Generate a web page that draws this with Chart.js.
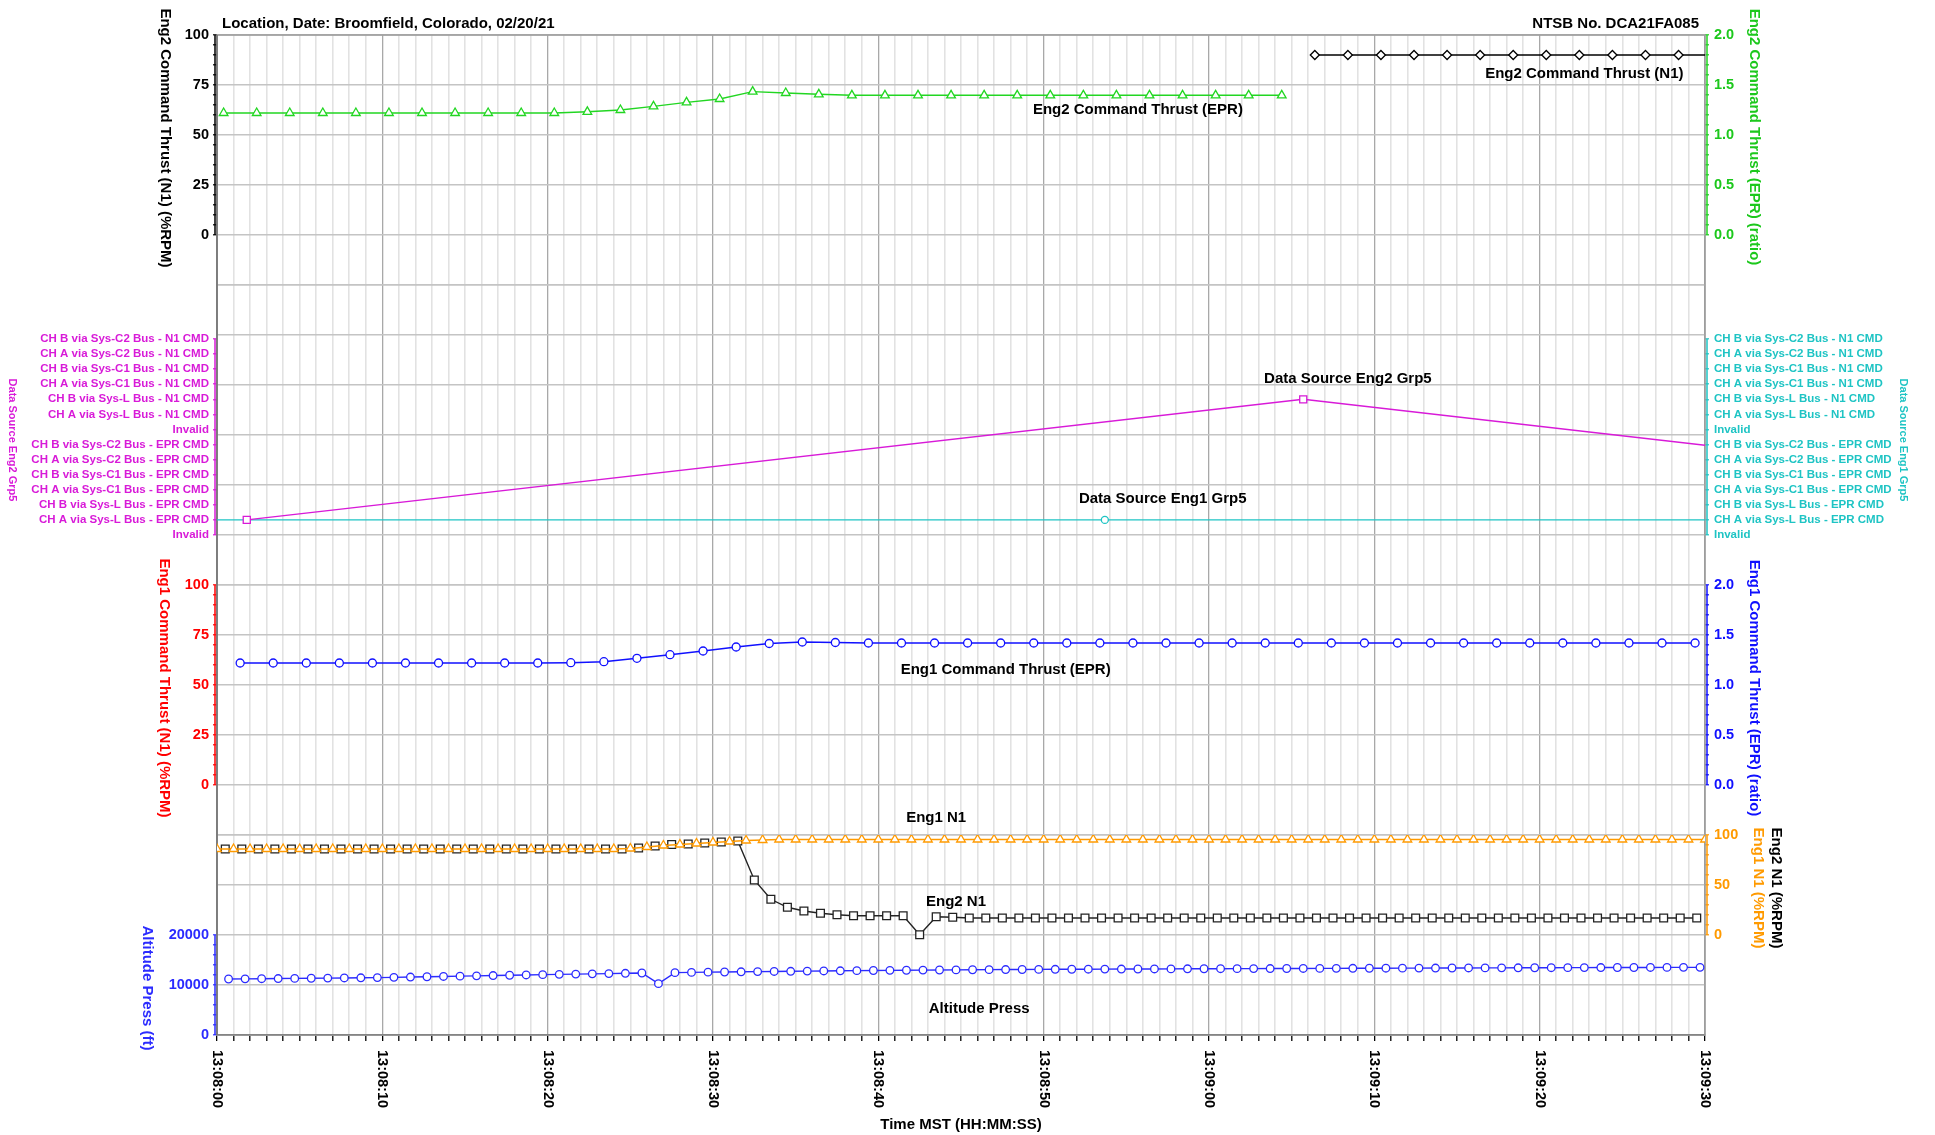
<!DOCTYPE html>
<html>
<head>
<meta charset="utf-8">
<title>Eng Command Thrust - DCA21FA085</title>
<script src="https://cdn.jsdelivr.net/npm/chart.js@4/dist/chart.umd.min.js"></script>
<style>
  body { margin: 0; background: #fff; }
  canvas { display: block; }
</style>
</head>
<body>
<canvas id="graficoMotores" width="1935" height="1135"></canvas>
<script>
// Tiempo en segundos desde 13:08:00 (eje x)
var etiquetasTiempo = ['13:08:00', '13:08:10', '13:08:20', '13:08:30', '13:08:40',
  '13:08:50', '13:09:00', '13:09:10', '13:09:20', '13:09:30'];

// Etiquetas de los ejes y
var ticksN1Cmd = [0, 25, 50, 75, 100];
var ticksEpr = [0, 0.5, 1, 1.5, 2];
var ticksN1 = [0, 50, 100];
var ticksAltitud = [0, 10000, 20000];

// Categorías de "Data Source" (de abajo hacia arriba)
var fuentesDatos = ['Invalid',
  'CH A via Sys-L Bus - EPR CMD', 'CH B via Sys-L Bus - EPR CMD',
  'CH A via Sys-C1 Bus - EPR CMD', 'CH B via Sys-C1 Bus - EPR CMD',
  'CH A via Sys-C2 Bus - EPR CMD', 'CH B via Sys-C2 Bus - EPR CMD',
  'Invalid',
  'CH A via Sys-L Bus - N1 CMD', 'CH B via Sys-L Bus - N1 CMD',
  'CH A via Sys-C1 Bus - N1 CMD', 'CH B via Sys-C1 Bus - N1 CMD',
  'CH A via Sys-C2 Bus - N1 CMD', 'CH B via Sys-C2 Bus - N1 CMD'];

// Eng2 Command Thrust (EPR): una muestra cada 2 s desde 0.4 s
var eprMotor2Inicio = 0.4, eprMotor2Paso = 2;
var eprMotor2 = [1.22, 1.22, 1.22, 1.22, 1.22, 1.22, 1.22, 1.22, 1.22, 1.22, 1.22,
  1.232, 1.25, 1.286, 1.326, 1.36, 1.434, 1.42, 1.407,
  1.397, 1.397, 1.397, 1.397, 1.397, 1.397, 1.397, 1.397, 1.397, 1.397, 1.397, 1.397, 1.397, 1.397];

// Eng2 Command Thrust (N1): cada 2 s desde 66.4 s
var n1CmdMotor2Inicio = 66.4, n1CmdMotor2Paso = 2;
var n1CmdMotor2 = [90, 90, 90, 90, 90, 90, 90, 90, 90, 90, 90, 90, 90];

// Data Source Eng2 Grp5 / Eng1 Grp5 (índice de categoría)
var fuenteMotor2Tiempos = [1.8, 65.7, 129.6];
var fuenteMotor2 = [1, 9, 1];
var fuenteMotor1Tiempos = [-10.3, 53.7, 117.7];
var fuenteMotor1 = [1, 1, 1];

// Eng1 Command Thrust (EPR): cada 2 s desde 1.4 s
var eprMotor1Inicio = 1.4, eprMotor1Paso = 2;
var eprMotor1 = [1.22, 1.22, 1.22, 1.22, 1.22, 1.22, 1.22, 1.22, 1.22, 1.22,
  1.223, 1.233, 1.267, 1.303, 1.34, 1.38, 1.415, 1.43, 1.425,
  1.42, 1.42, 1.42, 1.42, 1.42, 1.42, 1.42, 1.42, 1.42, 1.42, 1.42, 1.42, 1.42,
  1.42, 1.42, 1.42, 1.42, 1.42, 1.42, 1.42, 1.42, 1.42, 1.42, 1.42, 1.42, 1.42];

// Eng1 N1: cada 1 s desde 0 s
var n1Motor1Inicio = 0, n1Motor1Paso = 1;
var n1Motor1 = [86, 86, 86, 86, 86, 86, 86, 86, 86, 86, 86, 86, 86, 86, 86, 86, 86, 86, 86, 86,
  86, 86, 86, 86, 86,
  86.5, 88, 89.5, 90.5, 91.5, 92.5, 93.5, 94.5, 95,
  95.5, 95.5, 95.5, 95.5, 95.5, 95.5, 95.5, 95.5, 95.5, 95.5, 95.5, 95.5, 95.5, 95.5, 95.5,
  95.5, 95.5, 95.5, 95.5, 95.5, 95.5, 95.5, 95.5, 95.5, 95.5, 95.5, 95.5, 95.5, 95.5, 95.5,
  95.5, 95.5, 95.5, 95.5, 95.5, 95.5, 95.5, 95.5, 95.5, 95.5, 95.5, 95.5, 95.5, 95.5, 95.5,
  95.5, 95.5, 95.5, 95.5, 95.5, 95.5, 95.5, 95.5, 95.5, 95.5, 95.5, 95.5];

// Eng2 N1: cada 1 s desde 0.5 s
var n1Motor2Inicio = 0.5, n1Motor2Paso = 1;
var n1Motor2 = [86, 86, 86, 86, 86, 86, 86, 86, 86, 86, 86, 86, 86, 86, 86, 86, 86, 86, 86, 86,
  86, 86, 86, 86, 86,
  87, 89, 90.5, 91, 92, 93, 94,
  55, 35.7, 27.7, 24, 21.7, 20.3,
  19.3, 19.3, 19.3, 19.3, 0.3, 18.3, 17.7,
  17, 17, 17, 17, 17, 17, 17, 17, 17, 17, 17, 17, 17, 17, 17,
  17, 17, 17, 17, 17, 17, 17, 17, 17, 17, 17, 17, 17, 17, 17,
  17, 17, 17, 17, 17, 17, 17, 17, 17, 17, 17, 17, 17, 17, 17];

// Altitude Press (ft): cada 1 s desde 0.7 s
var altitudInicio = 0.7, altitudPaso = 1;
var altitud = [11200, 11230, 11260, 11290, 11320, 11350, 11380, 11410, 11440, 11480,
  11530, 11590, 11650, 11710, 11770, 11830, 11890, 11950, 12010, 12070,
  12130, 12180, 12230, 12280, 12340, 12400, 10270, 12470, 12520, 12570,
  12600, 12640, 12680, 12710, 12740, 12780, 12810, 12840, 12870, 12900,
  12930, 12950, 12980, 13000, 13020, 13050, 13070, 13090, 13100, 13120,
  13140, 13150, 13160, 13180, 13190, 13200, 13210, 13220, 13240, 13250,
  13260, 13270, 13280, 13290, 13300, 13310, 13320, 13330, 13340, 13350,
  13360, 13370, 13380, 13390, 13400, 13410, 13420, 13430, 13440, 13450,
  13460, 13470, 13480, 13490, 13500, 13500, 13510, 13520, 13530, 13530];

// Colores
var negro = '#000000', verde = '#22d622', verdeTexto = '#1cc81c', magenta = '#d81ad8',
    cian = '#1ec4c4', azul = '#1010ff', rojo = '#ff0000', naranja = '#ff9a00', azulAlt = '#2b2bff';
var familia = '"Liberation Sans", Arial, sans-serif';
var fuenteTicks = { family: familia, size: 14.5, weight: 'bold' };
var fuenteFuentes = { family: familia, size: 11.5, weight: 'bold' };

// Rango del eje de categorías (una franja de 300 px)
var fuenteMin = -3.317, fuenteMax = 16.583;

function serie(inicio, paso, valores) {
  return valores.map(function (v, i) { return { x: inicio + i * paso, y: v }; });
}
function serieTiempos(tiempos, valores) {
  return valores.map(function (v, i) { return { x: tiempos[i], y: v }; });
}
function marcas(desde, hasta, paso) {
  var r = [];
  for (var v = desde; v <= hasta + 1e-9; v += paso) r.push(Math.round(v * 1000) / 1000);
  return r;
}
function rejillaFuentes() {
  var r = [];
  for (var g = 0; g <= 6; g++) r.push(fuenteMin + g * (fuenteMax - fuenteMin) / 6);
  return r;
}

// Ticks a medida: marcas cortas, etiquetas y líneas de rejilla
function fijarTicks(escala, marcasEje, etiquetas, rejilla) {
  var mapa = {};
  function agregar(v, clave) {
    var k = (Math.round(v * 1000) / 1000).toString();
    if (!mapa[k]) mapa[k] = { value: v };
    mapa[k][clave] = true;
  }
  marcasEje.forEach(function (v) { agregar(v, 'esMarca'); });
  etiquetas.forEach(function (v) { agregar(v, 'esEtiqueta'); });
  rejilla.forEach(function (v) { agregar(v, 'esRejilla'); });
  escala.ticks = Object.keys(mapa).map(function (k) { return mapa[k]; })
    .sort(function (a, b) { return a.value - b.value; });
}

function ejeY(cfg) {
  var izquierda = cfg.lado === 'left';
  return {
    type: 'linear',
    position: cfg.lado,
    stack: cfg.lado,
    stackWeight: cfg.peso,
    min: cfg.min,
    max: cfg.max,
    afterBuildTicks: function (s) { fijarTicks(s, cfg.marcas, cfg.etiquetas, cfg.rejilla || []); },
    afterFit: function (s) { s.width = izquierda ? 217 : 230; },
    border: { display: false },
    grid: {
      drawOnChartArea: izquierda,
      color: function (c) { return c.tick && c.tick.esRejilla ? '#c4c4c4' : 'rgba(0,0,0,0)'; },
      lineWidth: 1.6,
      tickLength: 4,
      tickWidth: 1.2,
      tickColor: function (c) { return c.tick && c.tick.esMarca ? cfg.color : 'rgba(0,0,0,0)'; }
    },
    ticks: {
      autoSkip: false,
      padding: izquierda ? 4 : 5,
      color: cfg.color,
      font: cfg.fuente || fuenteTicks,
      callback: function (v, i, t) { return t[i].esEtiqueta ? cfg.formato(v) : ''; }
    }
  };
}

function entero(v) { return String(Math.round(v)); }
function unDecimal(v) { return v.toFixed(1); }
function categoria(v) { return fuentesDatos[Math.round(v)]; }

// Espinas de color de cada eje
var espinas = [
  { eje: 'yE2N1', lo: 0, hi: 100, color: negro },
  { eje: 'yDS2', lo: 0, hi: 13, color: magenta },
  { eje: 'yE1N1', lo: 0, hi: 100, color: rojo },
  { eje: 'yAlt', lo: 0, hi: 20000, color: azulAlt },
  { eje: 'yE2EPR', lo: 0, hi: 2, color: verde },
  { eje: 'yDS1', lo: 0, hi: 13, color: cian },
  { eje: 'yE1EPR', lo: 0, hi: 2, color: azul },
  { eje: 'yN1', lo: 0, hi: 100, color: naranja }
];

// Títulos de ejes (texto girado)
var titulos = [
  { t: 'Eng2 Command Thrust (N1) (%RPM)', x: 165, y: 138, c: negro, s: 15 },
  { t: 'Data Source Eng2 Grp5', x: 12, y: 440, c: magenta, s: 11 },
  { t: 'Eng1 Command Thrust (N1) (%RPM)', x: 164, y: 688, c: rojo, s: 15 },
  { t: 'Altitude Press (ft)', x: 147, y: 988, c: azulAlt, s: 15 },
  { t: 'Eng2 Command Thrust (EPR) (ratio)', x: 1754, y: 137, c: verdeTexto, s: 15 },
  { t: 'Data Source Eng1 Grp5', x: 1903, y: 440, c: cian, s: 11 },
  { t: 'Eng1 Command Thrust (EPR) (ratio)', x: 1754, y: 688, c: azul, s: 15 },
  { t: 'Eng1 N1 (%RPM)', x: 1758, y: 888, c: naranja, s: 15 },
  { t: 'Eng2 N1 (%RPM)', x: 1776, y: 888, c: negro, s: 15 }
];

// Rótulos de las series, en coordenadas de datos
var rotulos = [
  { t: 'Eng2 Command Thrust (EPR)', eje: 'yE2EPR', x: 55.7, y: 1.25 },
  { t: 'Eng2 Command Thrust (N1)', eje: 'yE2N1', x: 82.7, y: 80.5 },
  { t: 'Data Source Eng2 Grp5', eje: 'yDS2', x: 68.4, y: 10.35 },
  { t: 'Data Source Eng1 Grp5', eje: 'yDS1', x: 57.2, y: 2.39 },
  { t: 'Eng1 Command Thrust (EPR)', eje: 'yE1EPR', x: 47.7, y: 1.15 },
  { t: 'Eng1 N1', eje: 'yN1', x: 43.5, y: 117 },
  { t: 'Eng2 N1', eje: 'yN1', x: 44.7, y: 33 },
  { t: 'Altitude Press', eje: 'yAlt', x: 46.1, y: 5200 }
];

function texto(ctx, str, x, y, tam, color, alin, giro) {
  ctx.save();
  ctx.translate(x, y);
  if (giro) ctx.rotate(Math.PI / 2);
  ctx.font = 'bold ' + tam + 'px ' + familia;
  ctx.fillStyle = color;
  ctx.textAlign = alin || 'center';
  ctx.textBaseline = 'middle';
  ctx.fillText(str, 0, 0);
  ctx.restore();
}

var decorado = {
  id: 'decorado',
  beforeDatasetsDraw: function (chart) {
    var ctx = chart.ctx, a = chart.chartArea;
    ctx.save();
    ctx.strokeStyle = '#9a9a9a';
    ctx.lineWidth = 1.5;
    ctx.strokeRect(a.left, a.top, a.right - a.left, a.bottom - a.top);
    ctx.strokeStyle = '#707070';
    ctx.beginPath(); ctx.moveTo(a.left, a.top); ctx.lineTo(a.left, a.bottom); ctx.stroke();
    espinas.forEach(function (e) {
      var s = chart.scales[e.eje];
      var x = s.position === 'left' ? s.right - 2 : s.left + 2;
      ctx.strokeStyle = e.color;
      ctx.lineWidth = 1.5;
      ctx.beginPath();
      ctx.moveTo(x, s.getPixelForValue(e.lo));
      ctx.lineTo(x, s.getPixelForValue(e.hi));
      ctx.stroke();
    });
    ctx.restore();
  },
  afterDraw: function (chart) {
    var ctx = chart.ctx, a = chart.chartArea, sx = chart.scales.x;
    texto(ctx, 'Location, Date: Broomfield, Colorado, 02/20/21', 222, 24, 15, negro, 'left');
    texto(ctx, 'NTSB No. DCA21FA085', 1699, 24, 15, negro, 'right');
    titulos.forEach(function (t) { texto(ctx, t.t, t.x, t.y, t.s, t.c, 'center', true); });
    rotulos.forEach(function (r) {
      texto(ctx, r.t, sx.getPixelForValue(r.x), chart.scales[r.eje].getPixelForValue(r.y), 15, negro);
    });
    etiquetasTiempo.forEach(function (lbl, j) {
      texto(ctx, lbl, sx.getPixelForValue(j * 10), sx.top + 15, 14.5, negro, 'left', true);
    });
    texto(ctx, 'Time MST (HH:MM:SS)', (a.left + a.right) / 2, 1125, 15, negro);
  }
};

function dataset(etiqueta, eje, datos, color, estilo, radio) {
  return {
    label: etiqueta,
    yAxisID: eje,
    data: datos,
    borderColor: color,
    borderWidth: 1.4,
    pointStyle: estilo,
    pointRadius: radio,
    pointBorderColor: color,
    pointBackgroundColor: '#ffffff',
    pointBorderWidth: 1.3,
    tension: 0,
    fill: false
  };
}

document.addEventListener('DOMContentLoaded', function () {
  var ctx = document.getElementById('graficoMotores').getContext('2d');

  var datos = {
    datasets: [
      dataset('Eng2 Command Thrust (EPR)', 'yE2EPR', serie(eprMotor2Inicio, eprMotor2Paso, eprMotor2), verde, 'triangle', 5),
      dataset('Eng2 Command Thrust (N1)', 'yE2N1', serie(n1CmdMotor2Inicio, n1CmdMotor2Paso, n1CmdMotor2), negro, 'rectRot', 4.5),
      dataset('Data Source Eng2 Grp5', 'yDS2', serieTiempos(fuenteMotor2Tiempos, fuenteMotor2), magenta, 'rect', 5),
      dataset('Data Source Eng1 Grp5', 'yDS1', serieTiempos(fuenteMotor1Tiempos, fuenteMotor1), cian, 'circle', 3.5),
      dataset('Eng1 Command Thrust (EPR)', 'yE1EPR', serie(eprMotor1Inicio, eprMotor1Paso, eprMotor1), azul, 'circle', 4),
      dataset('Eng1 N1', 'yN1', serie(n1Motor1Inicio, n1Motor1Paso, n1Motor1), naranja, 'triangle', 5),
      dataset('Eng2 N1', 'yN1', serie(n1Motor2Inicio, n1Motor2Paso, n1Motor2), '#222222', 'rect', 5.5),
      dataset('Altitude Press', 'yAlt', serie(altitudInicio, altitudPaso, altitud), azulAlt, 'circle', 3.8)
    ]
  };

  var escalas = {
    x: {
      type: 'linear',
      position: 'bottom',
      min: 0,
      max: 90,
      afterBuildTicks: function (s) { s.ticks = marcas(0, 90, 1).map(function (v) { return { value: v }; }); },
      afterFit: function (s) { s.height = 100; },
      border: { color: '#444444', width: 1.5 },
      grid: {
        color: function (c) { return c.tick && c.tick.value % 10 === 0 ? '#a8a8a8' : '#e2e2e2'; },
        lineWidth: function (c) { return c.tick && c.tick.value % 10 === 0 ? 1.3 : 1.6; },
        tickColor: '#000000',
        tickLength: 6,
        tickWidth: 1.3
      },
      ticks: { autoSkip: false, maxRotation: 0, callback: function () { return ''; } }
    },
    // Pila izquierda (definida de abajo hacia arriba)
    yAlt: ejeY({ lado: 'left', peso: 4, min: 0, max: 40000, color: azulAlt, formato: entero,
      marcas: marcas(0, 20000, 2000), etiquetas: ticksAltitud, rejilla: [0, 10000, 20000, 30000, 40000] }),
    yE1N1: ejeY({ lado: 'left', peso: 5, min: -25, max: 100, color: rojo, formato: entero,
      marcas: marcas(0, 100, 5), etiquetas: ticksN1Cmd, rejilla: [-25, 0, 25, 50, 75, 100] }),
    yDS2: ejeY({ lado: 'left', peso: 6, min: fuenteMin, max: fuenteMax, color: magenta, formato: categoria,
      fuente: fuenteFuentes, marcas: marcas(0, 13, 1), etiquetas: marcas(0, 13, 1), rejilla: rejillaFuentes() }),
    yE2N1: ejeY({ lado: 'left', peso: 5, min: -25, max: 100, color: negro, formato: entero,
      marcas: marcas(0, 100, 5), etiquetas: ticksN1Cmd, rejilla: [-25, 0, 25, 50, 75, 100] }),
    // Pila derecha (definida de arriba hacia abajo)
    yE2EPR: ejeY({ lado: 'right', peso: 5, min: -0.5, max: 2, color: verdeTexto, formato: unDecimal,
      marcas: marcas(0, 2, 0.1), etiquetas: ticksEpr }),
    yDS1: ejeY({ lado: 'right', peso: 6, min: fuenteMin, max: fuenteMax, color: cian, formato: categoria,
      fuente: fuenteFuentes, marcas: marcas(0, 13, 1), etiquetas: marcas(0, 13, 1) }),
    yE1EPR: ejeY({ lado: 'right', peso: 5, min: -0.5, max: 2, color: azul, formato: unDecimal,
      marcas: marcas(0, 2, 0.1), etiquetas: ticksEpr }),
    yN1: ejeY({ lado: 'right', peso: 4, min: -100, max: 100, color: naranja, formato: entero,
      marcas: marcas(0, 100, 10), etiquetas: ticksN1 })
  };

  var grafico = new Chart(ctx, {
    type: 'line',
    data: datos,
    options: {
      responsive: false,
      animation: false,
      layout: { padding: { top: 35, left: 0, right: 0, bottom: 0 } },
      plugins: { legend: { display: false }, tooltip: { enabled: false } },
      scales: escalas
    },
    plugins: [decorado]
  });
});
</script>
</body>
</html>
